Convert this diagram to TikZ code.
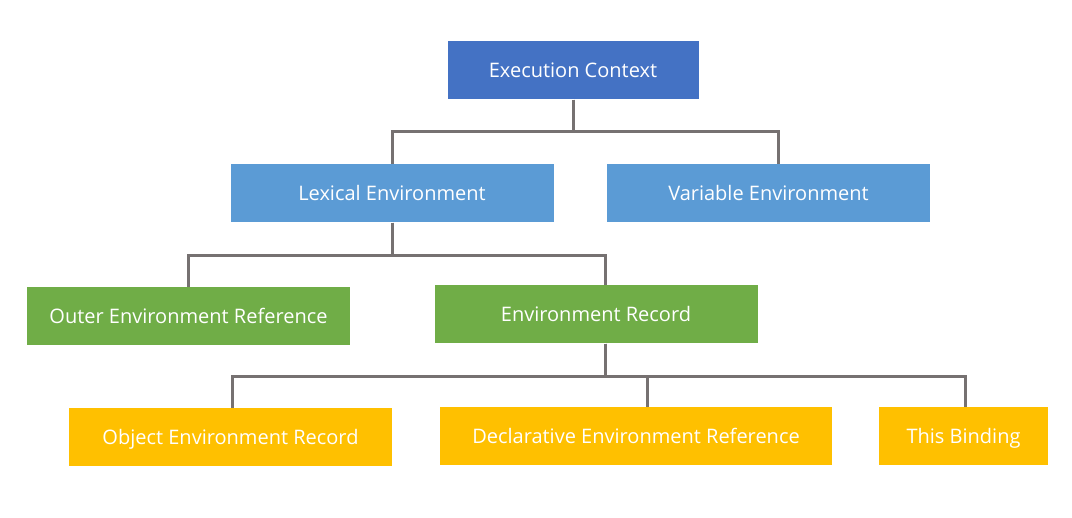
\documentclass[tikz,border=0pt]{standalone}
\usepackage{fontspec}
\setmainfont{Open Sans}
\usepackage{xcolor}
\definecolor{ctxblue}{HTML}{4472C4}
\definecolor{envblue}{HTML}{5B9BD5}
\definecolor{recgreen}{HTML}{70AD47}
\definecolor{bindgold}{HTML}{FFC000}
\definecolor{linkgray}{HTML}{767171}
\usetikzlibrary{positioning}

\tikzset{
  box/.style={rectangle, minimum height=58pt, inner sep=0pt, text=white,
              text height=16pt, text depth=1pt,
              font=\fontsize{20}{24}\selectfont},
  link/.style={draw=linkgray, line width=3pt}
}

\begin{document}
\begin{tikzpicture}[x=1pt, y=-1pt]
  \useasboundingbox (0,0) rectangle (1072,518);

  % Level 0
  \node[box, fill=ctxblue, minimum width=251pt] (ctx) at (573,70.5) {Execution Context};

  % Level 1
  \node[box, fill=envblue, minimum width=323pt] (lex) at (392,193.5) {Lexical Environment};
  \node[box, fill=envblue, minimum width=323pt] (var) at (768.5,193.5) {Variable Environment};

  % Level 2
  \node[box, fill=recgreen, minimum width=323pt] (outer) at (188.5,316.5) {Outer Environment Reference};
  \node[box, fill=recgreen, minimum width=323pt] (rec) at (596,314.5) {Environment Record};

  % Level 3
  \node[box, fill=bindgold, minimum width=323pt] (obj) at (230.5,437.5) {Object Environment Record};
  \node[box, fill=bindgold, minimum width=392pt] (decl) at (636,436.5) {Declarative Environment Reference};
  \node[box, fill=bindgold, minimum width=169pt] (this) at (963.5,436.5) {This Binding};

  % Connectors
  \draw[link] (ctx.south) -- ++(0,32) -| (lex.north);
  \draw[link] (ctx.south) -- ++(0,32) -| ([xshift=9.5pt]var.north);
  \draw[link] (lex.south) -- ++(0,33) -| (outer.north);
  \draw[link] (lex.south) -- ++(0,33) -| ([xshift=9pt]rec.north);
  \draw[link] ([xshift=9pt]rec.south) -- ++(0,33) -| ([xshift=1.5pt]obj.north);
  \draw[link] ([xshift=9pt]rec.south) -- ++(0,33) -| ([xshift=11pt]decl.north);
  \draw[link] ([xshift=9pt]rec.south) -- ++(0,33) -| ([xshift=1.5pt]this.north);
\end{tikzpicture}
\end{document}
